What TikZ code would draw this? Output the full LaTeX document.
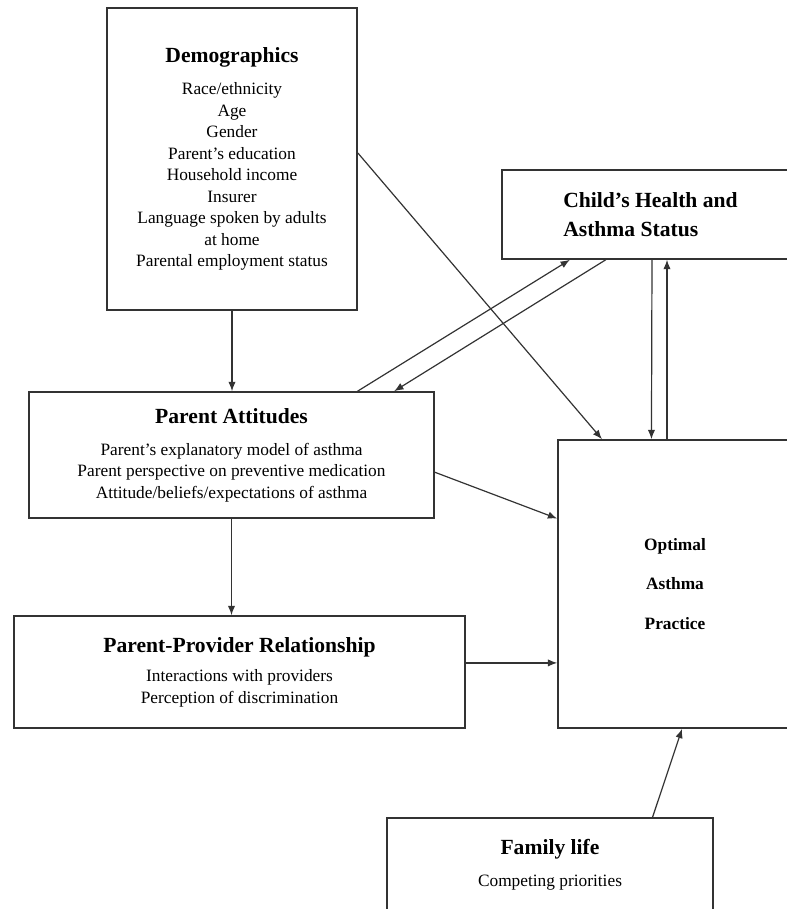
\documentclass[tikz,border=0pt]{standalone}
\usepackage{fontspec}
\setmainfont{Liberation Serif}
\usetikzlibrary{arrows.meta,calc}

\newcommand{\boxtitle}[1]{{\fontsize{16.2}{19}\selectfont\bfseries #1}}

\tikzset{
block/.style = {draw=black!80, line width=1.2pt, rectangle, fill=white, align=center, inner sep=0pt,
  font=\fontsize{13}{16.1}\selectfont},
link/.style = {->, draw=black!80, line width=0.9pt},
}

\begin{document}
\begin{tikzpicture}[x=0.75pt, y=-0.75pt, >={Latex[length=7pt,width=5.5pt]}]
    \useasboundingbox (0,0) rectangle (786,909);
    % first the boxes
    \node [block, minimum width=187.5pt, minimum height=226.5pt] (demo) at (232,159)
        {\boxtitle{Demographics}\\[8pt] Race/ethnicity\\ Age\\ Gender\\ Parent’s education\\
         Household income\\ Insurer\\ Language spoken by adults\\ at home\\ Parental employment status};
    \node [block, minimum width=222.75pt, minimum height=66.75pt, align=left,
        font=\fontsize{16.2}{21.75}\selectfont\bfseries] (child) at (650.5,214.5)
        {Child's Health and\\ Asthma Status};
    \node [block, minimum width=303.75pt, minimum height=94.5pt] (attit) at (231.5,455)
        {\boxtitle{Parent Attitudes}\\[8pt] Parent’s explanatory model of asthma\\
         Parent perspective on preventive medication\\ Attitude/beliefs/expectations of asthma};
    \node [block, minimum width=175.5pt, minimum height=216pt, font=\fontsize{13}{16.1}\selectfont\bfseries]
        (opt) at (675,584) {Optimal\\[13.5pt] Asthma\\[13.5pt] Practice};
    \node [block, minimum width=338.25pt, minimum height=84pt] (prov) at (239.5,672)
        {\boxtitle{Parent-Provider Relationship}\\[6pt] Interactions with providers\\ Perception of discrimination};
    \node [block, minimum width=244.5pt, minimum height=70.5pt] (fam) at (550,865)
        {\boxtitle{Family life}\\[8pt] Competing priorities};

    % helper points for the straight runs
    \coordinate (up) at ($(opt.north west)!0.466!(opt.north east)$);
    \coordinate (pp) at ($(prov.north east)!0.42!(prov.south east)$);

    % then the arrows between them
    \draw [link] (demo.south) -- (demo.south |- attit.north);
    \draw [link] (attit.south) -- (attit.south |- prov.north);
    \draw [link] ($(demo.north east)!0.48!(demo.south east)$) -- ($(opt.north west)!0.19!(opt.north east)$);
    \draw [link] ($(attit.north west)!0.81!(attit.north east)$) -- ($(child.south west)!0.23!(child.south east)$);
    \draw [link] ($(child.south west)!0.35!(child.south east)$) -- ($(attit.north west)!0.9!(attit.north east)$);
    \draw [link] ($(child.south west)!0.505!(child.south east)$) -- ($(opt.north west)!0.40!(opt.north east)$);
    \draw [link] (up) -- (up |- child.south);
    \draw [link] ($(attit.north east)!0.635!(attit.south east)$) -- ($(opt.north west)!0.274!(opt.south west)$);
    \draw [link] (pp) -- (pp -| opt.west);
    \draw [link] ($(fam.north west)!0.813!(fam.north east)$) -- ($(opt.south west)!0.53!(opt.south east)$);
\end{tikzpicture}
\end{document}
